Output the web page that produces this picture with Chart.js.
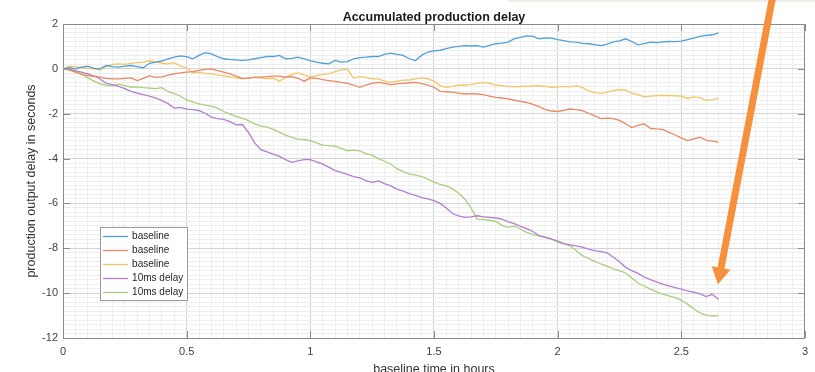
<!DOCTYPE html>
<html><head><meta charset="utf-8">
<script src="https://cdn.jsdelivr.net/npm/chart.js@4.4.1/dist/chart.umd.min.js"></script>
<style>html,body{margin:0;padding:0;background:#fff;overflow:hidden}</style>
</head><body>
<canvas id="c" width="815" height="372"></canvas>
<script>
// ---------- DATA ----------
const chartTitle = 'Accumulated production delay';
const xAxisTitle = 'baseline time in hours';
const yAxisTitle = 'production output delay in seconds';
const xTickLabels = ['0','0.5','1','1.5','2','2.5','3'];
const yTickLabels = ['2','0','-2','-4','-6','-8','-10','-12'];
const seriesLabels = ['baseline','baseline','baseline','10ms delay','10ms delay'];

const hours = [0,0.025,0.05,0.075,0.1,0.125,0.15,0.175,0.2,0.225,
0.25,0.275,0.3,0.325,0.35,0.375,0.4,0.425,0.45,0.475,
0.5,0.525,0.55,0.575,0.6,0.625,0.65,0.675,0.7,0.725,
0.75,0.775,0.8,0.825,0.85,0.875,0.9,0.925,0.95,0.975,
1,1.025,1.05,1.075,1.1,1.125,1.15,1.175,1.2,1.225,
1.25,1.275,1.3,1.325,1.35,1.375,1.4,1.425,1.45,1.475,
1.5,1.525,1.55,1.575,1.6,1.625,1.65,1.675,1.7,1.725,
1.75,1.775,1.8,1.825,1.85,1.875,1.9,1.925,1.95,1.975,
2,2.025,2.05,2.075,2.1,2.125,2.15,2.175,2.2,2.225,
2.25,2.275,2.3,2.325,2.35,2.375,2.4,2.425,2.45,2.475,
2.5,2.525,2.55,2.575,2.6,2.625,2.65];

const baselineA = [0,0.05,0.0,0.08,0.12,0.02,0.0,0.15,0.1,0.08,
0.12,0.15,0.1,0.05,0.25,0.3,0.35,0.45,0.52,0.58,
0.55,0.45,0.6,0.72,0.67,0.55,0.45,0.42,0.4,0.38,
0.4,0.45,0.5,0.55,0.55,0.6,0.45,0.47,0.52,0.45,
0.37,0.3,0.25,0.22,0.38,0.3,0.32,0.45,0.5,0.52,
0.55,0.55,0.65,0.7,0.65,0.6,0.45,0.37,0.6,0.75,
0.8,0.83,0.9,0.97,1.0,1.04,1.02,1.04,0.97,1.05,
1.12,1.15,1.19,1.35,1.4,1.47,1.45,1.34,1.38,1.37,
1.3,1.26,1.2,1.19,1.14,1.12,1.08,1.04,1.1,1.2,
1.25,1.34,1.22,1.07,1.12,1.19,1.17,1.2,1.22,1.21,
1.24,1.3,1.37,1.45,1.49,1.52,1.6];

const baselineB = [0,-0.05,-0.15,-0.25,-0.3,-0.33,-0.37,-0.42,-0.45,-0.45,
-0.42,-0.4,-0.52,-0.42,-0.3,-0.38,-0.36,-0.28,-0.22,-0.18,
-0.15,-0.12,-0.07,-0.02,0.0,-0.08,-0.15,-0.22,-0.32,-0.42,
-0.42,-0.37,-0.37,-0.35,-0.32,-0.32,-0.37,-0.35,-0.42,-0.55,
-0.4,-0.42,-0.48,-0.52,-0.56,-0.6,-0.65,-0.72,-0.82,-0.72,
-0.65,-0.6,-0.65,-0.7,-0.67,-0.65,-0.62,-0.6,-0.66,-0.72,
-0.82,-1.0,-1.02,-1.04,-1.08,-1.12,-1.1,-1.12,-1.15,-1.22,
-1.27,-1.3,-1.34,-1.4,-1.45,-1.5,-1.58,-1.68,-1.82,-1.88,
-1.9,-1.85,-1.79,-1.82,-1.86,-1.98,-2.1,-2.22,-2.2,-2.22,
-2.3,-2.45,-2.62,-2.52,-2.45,-2.65,-2.68,-2.7,-2.83,-2.95,
-3.08,-3.2,-3.12,-3.05,-3.18,-3.22,-3.27];

const baselineC = [0,0.12,0.1,0.05,0.03,0.0,-0.05,0.12,0.2,0.22,
0.2,0.24,0.28,0.3,0.35,0.32,0.25,0.22,0.28,0.12,
0.05,-0.18,-0.15,-0.2,-0.22,-0.28,-0.3,-0.37,-0.4,-0.45,
-0.4,-0.38,-0.4,-0.45,-0.42,-0.55,-0.38,-0.25,-0.18,-0.28,
-0.37,-0.3,-0.25,-0.22,-0.12,-0.05,-0.02,-0.42,-0.35,-0.38,
-0.45,-0.45,-0.55,-0.6,-0.55,-0.5,-0.5,-0.45,-0.4,-0.45,
-0.55,-0.75,-0.82,-0.78,-0.72,-0.72,-0.7,-0.65,-0.6,-0.65,
-0.72,-0.75,-0.78,-0.8,-0.78,-0.78,-0.76,-0.75,-0.78,-0.82,
-0.8,-0.78,-0.8,-0.75,-0.82,-0.98,-1.05,-1.1,-1.04,-0.97,
-0.92,-0.95,-1.08,-1.15,-1.25,-1.22,-1.19,-1.18,-1.19,-1.2,
-1.22,-1.32,-1.25,-1.28,-1.4,-1.38,-1.3];

const delayA = [0,-0.02,-0.08,-0.15,-0.22,-0.32,-0.45,-0.65,-0.7,-0.78,
-0.88,-1.0,-1.08,-1.15,-1.22,-1.3,-1.42,-1.55,-1.75,-1.72,
-1.8,-1.82,-1.86,-1.98,-2.15,-2.22,-2.25,-2.35,-2.5,-2.48,
-2.83,-3.3,-3.6,-3.7,-3.8,-3.9,-4.05,-4.17,-4.1,-4.05,
-4.05,-4.15,-4.25,-4.38,-4.54,-4.62,-4.7,-4.8,-4.86,-4.98,
-5.06,-5.0,-5.12,-5.22,-5.36,-5.45,-5.56,-5.64,-5.74,-5.8,
-5.88,-6.0,-6.2,-6.45,-6.55,-6.62,-6.6,-6.55,-6.6,-6.62,
-6.65,-6.7,-6.82,-6.9,-7.02,-7.12,-7.25,-7.44,-7.5,-7.58,
-7.7,-7.8,-7.85,-7.89,-7.95,-8.04,-8.1,-8.15,-8.2,-8.4,
-8.6,-8.85,-9.0,-9.12,-9.28,-9.4,-9.5,-9.6,-9.68,-9.75,
-9.82,-9.9,-9.95,-10.02,-10.15,-10.05,-10.27];

const delayB = [0,-0.05,-0.12,-0.22,-0.4,-0.55,-0.67,-0.74,-0.76,-0.68,
-0.75,-0.82,-0.8,-0.84,-0.86,-0.88,-0.84,-1.02,-1.1,-1.22,
-1.38,-1.48,-1.56,-1.62,-1.66,-1.75,-1.9,-2.02,-2.12,-2.2,
-2.31,-2.45,-2.55,-2.6,-2.7,-2.83,-2.95,-3.05,-3.13,-3.15,
-3.2,-3.3,-3.4,-3.42,-3.45,-3.55,-3.65,-3.62,-3.66,-3.78,
-3.85,-4.0,-4.12,-4.24,-4.45,-4.58,-4.68,-4.74,-4.8,-4.92,
-5.05,-5.15,-5.22,-5.35,-5.55,-5.8,-6.2,-6.7,-6.72,-6.75,
-6.8,-6.98,-7.07,-7.0,-7.15,-7.29,-7.38,-7.45,-7.52,-7.6,
-7.66,-7.78,-7.89,-8.1,-8.33,-8.45,-8.58,-8.7,-8.8,-8.92,
-9.0,-9.1,-9.32,-9.55,-9.68,-9.82,-9.94,-10.04,-10.12,-10.2,
-10.32,-10.49,-10.7,-10.88,-10.98,-11.02,-11.0];

const seriesValues = [baselineA, baselineB, baselineC, delayA, delayB];
// annotation arrow (data units)
const arrowFrom = {x: 2.868, y: 3.13};
const arrowTo = {x: 2.648, y: -9.62};

// ---------- STYLE ----------
const seriesColors = ['#4f9fdb','#eb8763','#f2c665','#b47dce','#a9cf7b'];
const FONT = '"Liberation Sans", Arial, Helvetica, sans-serif';
const AXIS_COLOR = '#8a8a8a';
const isMult = (v, s) => Math.abs(v / s - Math.round(v / s)) < 1e-6;

const datasets = seriesValues.map((vals, i) => ({
  label: seriesLabels[i],
  data: hours.map((h, j) => ({x: h, y: vals[j]})),
  borderColor: seriesColors[i],
  backgroundColor: seriesColors[i],
  borderWidth: 1.3,
  pointRadius: 0,
  tension: 0,
  fill: false
}));

const framePlugin = {
  id: 'frame',
  beforeDatasetsDraw(chart) {
    const {ctx, chartArea: a, scales} = chart;
    ctx.save();
    ctx.strokeStyle = AXIS_COLOR;
    ctx.lineWidth = 1;
    ctx.strokeRect(Math.round(a.left) + 0.5, Math.round(a.top) + 0.5,
      Math.round(a.right - a.left) - 1, Math.round(a.bottom - a.top));
    const tl = 7;
    ctx.beginPath();
    xTickLabels.forEach((t, i) => {
      const px = Math.round(scales.x.getPixelForValue(i * 0.5)) + 0.5;
      ctx.moveTo(px, a.bottom); ctx.lineTo(px, a.bottom - tl);
      ctx.moveTo(px, a.top); ctx.lineTo(px, a.top + tl);
    });
    yTickLabels.forEach((t, i) => {
      const py = Math.round(scales.y.getPixelForValue(2 - i * 2)) + 0.5;
      ctx.moveTo(a.left, py); ctx.lineTo(a.left + tl, py);
      ctx.moveTo(a.right, py); ctx.lineTo(a.right - tl, py);
    });
    ctx.stroke();
    ctx.restore();
  },
  afterDatasetsDraw(chart) {
    // legend box
    const {ctx, scales} = chart;
    const bx = scales.x.getPixelForValue(0.15), by = scales.y.getPixelForValue(-7.05);
    const bw = 87, bh = 73;
    ctx.save();
    ctx.fillStyle = '#ffffff';
    ctx.fillRect(bx, by, bw, bh);
    ctx.strokeStyle = '#9a9a9a';
    ctx.lineWidth = 1;
    ctx.strokeRect(Math.round(bx) + 0.5, Math.round(by) + 0.5, bw, bh);
    ctx.font = '10px ' + FONT;
    ctx.textBaseline = 'middle';
    ctx.fillStyle = '#262626';
    chart.data.datasets.forEach((ds, i) => {
      const y = Math.round(by + 9 + i * 14) + 0.5;
      ctx.strokeStyle = ds.borderColor;
      ctx.lineWidth = 1.3;
      ctx.beginPath(); ctx.moveTo(bx + 3, y); ctx.lineTo(bx + 28, y); ctx.stroke();
      ctx.fillText(ds.label, bx + 32, y);
    });
    ctx.restore();
  },
  afterDraw(chart) {
    const {ctx, chartArea: a, scales} = chart;
    ctx.save();
    // title
    ctx.font = 'bold 12.5px ' + FONT;
    ctx.fillStyle = '#1a1a1a';
    ctx.textAlign = 'center';
    ctx.textBaseline = 'alphabetic';
    ctx.fillText(chartTitle, (a.left + a.right) / 2, 20.5);
    // faint frame remnant at top right
    ctx.strokeStyle = '#f1ece6';
    ctx.lineWidth = 2;
    ctx.beginPath(); ctx.moveTo(scales.x.getPixelForValue(1.8), 1); ctx.lineTo(815, 1); ctx.stroke();
    // arrow
    const x0 = scales.x.getPixelForValue(arrowFrom.x), y0 = scales.y.getPixelForValue(arrowFrom.y);
    const x1 = scales.x.getPixelForValue(arrowTo.x), y1 = scales.y.getPixelForValue(arrowTo.y);
    const dx = x1 - x0, dy = y1 - y0, L = Math.hypot(dx, dy);
    const ux = dx / L, uy = dy / L, nx = -uy, ny = ux;
    const headLen = 17, headW = 9.5;
    const bxh = x1 - ux * headLen, byh = y1 - uy * headLen;
    ctx.strokeStyle = '#f5913d';
    ctx.fillStyle = '#f5913d';
    ctx.lineWidth = 7;
    ctx.lineCap = 'butt';
    ctx.beginPath(); ctx.moveTo(x0, y0); ctx.lineTo(bxh + ux * 2, byh + uy * 2); ctx.stroke();
    ctx.beginPath();
    ctx.moveTo(x1, y1);
    ctx.lineTo(bxh + nx * headW, byh + ny * headW);
    ctx.lineTo(bxh - nx * headW, byh - ny * headW);
    ctx.closePath(); ctx.fill();
    ctx.restore();
  }
};

new Chart(document.getElementById('c'), {
  type: 'line',
  data: {datasets},
  options: {
    responsive: false,
    animation: false,
    devicePixelRatio: 1,
    layout: {padding: {left: 0, right: 5, top: 24, bottom: 0}},
    plugins: {legend: {display: false}, tooltip: {enabled: false}, title: {display: false}},
    scales: {
      x: {
        type: 'linear', min: 0, max: 3,
        afterFit(s) { s.height = 34; },
        border: {display: false},
        grid: {drawTicks: false, lineWidth: 1,
          color: c => isMult(c.tick.value, 0.5) ? '#d4d4d4' : '#eeeeee'},
        ticks: {stepSize: 0.05, autoSkip: false, maxRotation: 0, padding: 7,
          color: '#404040', font: {family: FONT, size: 11},
          callback: v => isMult(v, 0.5) ? xTickLabels[Math.round(v / 0.5)] : ''},
        title: {display: true, text: xAxisTitle, color: '#333333',
          font: {family: FONT, size: 12.5}, padding: {top: 0, bottom: -5}}
      },
      y: {
        type: 'linear', min: -12, max: 2,
        afterFit(s) { s.width = 63; },
        border: {display: false},
        grid: {drawTicks: false, lineWidth: 1,
          color: c => isMult(c.tick.value, 2) ? '#d4d4d4' : '#eeeeee'},
        ticks: {stepSize: 0.2, autoSkip: false, padding: 5,
          color: '#404040', font: {family: FONT, size: 11},
          callback: v => isMult(v, 2) ? yTickLabels[Math.round((2 - v) / 2)] : ''},
        title: {display: true, text: yAxisTitle, color: '#333333',
          font: {family: FONT, size: 12.5}, padding: {top: 24, bottom: 0}}
      }
    }
  },
  plugins: [framePlugin]
});
</script>
</body></html>
